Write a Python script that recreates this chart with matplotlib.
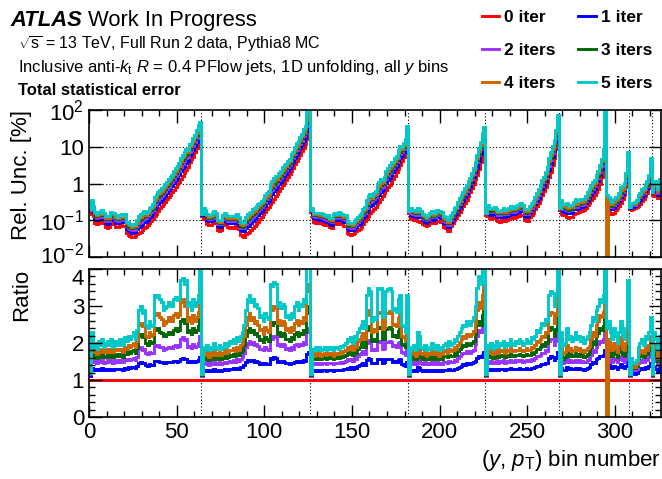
import numpy as np
import matplotlib
matplotlib.use("Agg")
import matplotlib.pyplot as plt
from matplotlib.lines import Line2D
from matplotlib.transforms import ScaledTranslation
from matplotlib.ticker import MultipleLocator, LogLocator, FixedLocator, NullFormatter

plt.rcParams["font.family"] = ["Liberation Sans", "DejaVu Sans"]
plt.rcParams["mathtext.fontset"] = "custom"
plt.rcParams["mathtext.rm"] = "Liberation Sans"
plt.rcParams["mathtext.it"] = "Liberation Sans:italic"
plt.rcParams["mathtext.bf"] = "Liberation Sans:bold"

# y-bin boundaries (in bin number)
y_bin_edges = [64, 126, 182, 226, 268, 295, 308, 321]
n_bins = 326

# relative stat. uncertainty [%] for 0 iterations, one row block per y bin
unc_0iter = [
    # y bin 1
    0.17, 0.15, 0.13, 0.085, 0.08, 0.082, 0.09, 0.088, 0.085, 0.065,
    0.062, 0.066, 0.08, 0.082, 0.078, 0.066, 0.064, 0.068, 0.072, 0.07,
    0.068, 0.045, 0.04, 0.038, 0.034, 0.035, 0.037, 0.042, 0.045, 0.048,
    0.055, 0.06, 0.065, 0.075, 0.085, 0.095, 0.11, 0.13, 0.15, 0.18,
    0.21, 0.24, 0.28, 0.32, 0.37, 0.43, 0.5, 0.58, 0.68, 0.8,
    0.95, 1.1, 1.35, 1.6, 1.95, 2.3, 2.8, 3.8, 4.5, 5.3,
    7.0, 9.0, 12, 10,
    # y bin 2
    0.13, 0.11, 0.105, 0.078, 0.075, 0.074, 0.085, 0.088, 0.083, 0.055,
    0.052, 0.054, 0.075, 0.078, 0.072, 0.066, 0.063, 0.065, 0.062, 0.07,
    0.068, 0.058, 0.04, 0.037, 0.036, 0.042, 0.045, 0.048, 0.055, 0.062,
    0.07, 0.08, 0.092, 0.11, 0.125, 0.145, 0.17, 0.2, 0.23, 0.27,
    0.32, 0.38, 0.45, 0.53, 0.63, 0.75, 0.9, 1.05, 1.25, 1.5,
    1.8, 2.2, 2.7, 3.3, 4.0, 4.9, 6.0, 7.5, 9.5, 12,
    16, 22,
    # y bin 3
    0.17, 0.12, 0.09, 0.085, 0.088, 0.082, 0.086, 0.08, 0.075, 0.072,
    0.076, 0.064, 0.06, 0.082, 0.086, 0.08, 0.088, 0.084, 0.08, 0.07,
    0.068, 0.045, 0.042, 0.04, 0.041, 0.044, 0.05, 0.054, 0.058, 0.065,
    0.08, 0.095, 0.11, 0.13, 0.155, 0.18, 0.2, 0.23, 0.27, 0.31,
    0.37, 0.45, 0.55, 0.65, 0.78, 0.92, 1.1, 1.35, 1.65, 2.0,
    2.5, 3.1, 4.0, 5.2, 7.0, 11,
    # y bin 4
    0.16, 0.11, 0.105, 0.1, 0.1, 0.095, 0.092, 0.096, 0.08, 0.072,
    0.07, 0.074, 0.085, 0.088, 0.082, 0.086, 0.095, 0.098, 0.092, 0.09,
    0.065, 0.06, 0.052, 0.05, 0.07, 0.085, 0.1, 0.115, 0.14, 0.17,
    0.2, 0.24, 0.3, 0.36, 0.45, 0.58, 0.76, 1.0, 1.3, 1.7,
    2.5, 3.8, 5.5, 7.5,
    # y bin 5
    0.14, 0.13, 0.115, 0.11, 0.12, 0.115, 0.1, 0.095, 0.092, 0.1,
    0.105, 0.098, 0.1, 0.11, 0.115, 0.12, 0.112, 0.12, 0.13, 0.128,
    0.14, 0.135, 0.1, 0.095, 0.098, 0.12, 0.14, 0.16, 0.2, 0.24,
    0.3, 0.38, 0.5, 0.62, 0.8, 1.1, 1.5, 2.1, 3.2, 5.0,
    8.5, 15,
    # y bin 6
    0.19, 0.15, 0.14, 0.135, 0.12, 0.118, 0.12, 0.125, 0.15, 0.16,
    0.155, 0.165, 0.18, 0.175, 0.19, 0.22, 0.26, 0.3, 0.35, 0.4,
    0.48, 0.58, 0.72, 1.0, 1.5, 2.6, 3.0,
    # y bin 7
    0.2, 0.17, 0.15, 0.15, 0.16, 0.19, 0.22, 0.24, 0.3, 0.38,
    0.5, 0.8, 2.0,
    # y bin 8
    0.2, 0.19, 0.2, 0.21, 0.23, 0.25, 0.28, 0.33, 0.38, 0.45,
    0.55, 0.75, 1.8,
    # y bin 9
    0.5, 0.45, 0.55, 0.4, 0.6,
]

# ratio to 0 iterations
ratio_1iter = [
    1.12, 1.32, 1.28, 1.3, 1.26, 1.3, 1.28, 1.32, 1.27, 1.29,
    1.31, 1.27, 1.31, 1.27, 1.29, 1.31, 1.29, 1.31, 1.29, 1.27,
    1.33, 1.31, 1.34, 1.32, 1.34, 1.35, 1.32, 1.37, 1.46, 1.48,
    1.45, 1.47, 1.4, 1.39, 1.42, 1.4, 1.41, 1.52, 1.51, 1.52,
    1.5, 1.49, 1.46, 1.47, 1.48, 1.5, 1.49, 1.48, 1.51, 1.52,
    1.5, 1.51, 1.58, 1.6, 1.56, 1.58, 1.5, 1.51, 1.48, 1.52,
    1.5, 1.51, 1.54, 1.62,
    1.1, 1.27, 1.25, 1.28, 1.24, 1.27, 1.25, 1.3, 1.25, 1.27,
    1.28, 1.25, 1.27, 1.3, 1.27, 1.28, 1.31, 1.3, 1.32, 1.29,
    1.33, 1.31, 1.34, 1.36, 1.4, 1.48, 1.53, 1.55, 1.51, 1.53,
    1.5, 1.51, 1.49, 1.44, 1.45, 1.42, 1.46, 1.44, 1.43, 1.6,
    1.58, 1.61, 1.6, 1.5, 1.52, 1.49, 1.51, 1.5, 1.45, 1.46,
    1.43, 1.46, 1.45, 1.5, 1.52, 1.49, 1.51, 1.5, 1.54, 1.52,
    1.7, 1.75,
    1.1, 1.26, 1.24, 1.27, 1.25, 1.26, 1.24, 1.26, 1.27, 1.25,
    1.26, 1.26, 1.27, 1.24, 1.26, 1.27, 1.26, 1.28, 1.27, 1.29,
    1.3, 1.33, 1.31, 1.34, 1.3, 1.35, 1.33, 1.37, 1.4, 1.42,
    1.45, 1.4, 1.55, 1.6, 1.57, 1.45, 1.47, 1.46, 1.58, 1.57,
    1.58, 1.47, 1.48, 1.56, 1.57, 1.58, 1.56, 1.5, 1.51, 1.49,
    1.54, 1.56, 1.42, 1.4, 1.38, 1.5,
    1.1, 1.26, 1.24, 1.27, 1.23, 1.35, 1.33, 1.26, 1.24, 1.27,
    1.23, 1.26, 1.24, 1.28, 1.26, 1.24, 1.27, 1.23, 1.26, 1.24,
    1.27, 1.28, 1.26, 1.29, 1.27, 1.28, 1.31, 1.29, 1.33, 1.36,
    1.39, 1.42, 1.41, 1.45, 1.44, 1.42, 1.45, 1.48, 1.52, 1.6,
    1.65, 1.62, 1.68, 1.75,
    1.1, 1.29, 1.27, 1.3, 1.26, 1.29, 1.31, 1.27, 1.3, 1.29,
    1.31, 1.27, 1.3, 1.29, 1.32, 1.3, 1.29, 1.31, 1.3, 1.32,
    1.31, 1.29, 1.3, 1.32, 1.31, 1.3, 1.33, 1.32, 1.35, 1.38,
    1.37, 1.4, 1.44, 1.42, 1.47, 1.45, 1.6, 1.65, 1.62, 1.55,
    1.6, 1.75,
    1.1, 1.32, 1.26, 1.28, 1.34, 1.3, 1.32, 1.29, 1.31, 1.33,
    1.3, 1.32, 1.29, 1.31, 1.28, 1.3, 1.32, 1.35, 1.42, 1.5,
    1.47, 1.56, 1.6, 1.66, 1.64, 1.68, 1.8,
    1.45, 1.42, 1.36, 1.32, 1.38, 1.34, 1.3, 1.36, 1.42, 1.34,
    1.32, 1.37, 1.55,
    1.1, 1.2, 1.18, 1.16, 1.19, 1.28, 1.3, 1.32, 1.29, 1.35,
    1.32, 1.37, 1.45,
    1.1, 1.35, 1.3, 1.22, 1.32,
]

ratio_2iters = [
    1.15, 1.55, 1.48, 1.52, 1.46, 1.51, 1.48, 1.53, 1.47, 1.5,
    1.53, 1.48, 1.53, 1.47, 1.5, 1.53, 1.5, 1.53, 1.5, 1.48,
    1.56, 1.53, 1.58, 1.55, 1.58, 1.6, 1.55, 1.63, 1.85, 1.88,
    1.82, 1.85, 1.72, 1.7, 1.76, 1.72, 1.74, 1.95, 1.93, 1.95,
    1.9, 1.88, 1.82, 1.84, 1.87, 1.9, 1.88, 1.86, 1.93, 1.95,
    1.9, 1.93, 2.1, 2.15, 2.08, 2.12, 1.9, 1.93, 1.87, 1.96,
    1.9, 1.93, 2.0, 2.2,
    1.12, 1.46, 1.43, 1.48, 1.41, 1.46, 1.43, 1.5, 1.43, 1.46,
    1.48, 1.43, 1.46, 1.5, 1.46, 1.48, 1.52, 1.5, 1.54, 1.49,
    1.56, 1.52, 1.58, 1.63, 1.72, 1.9, 2.0, 2.05, 1.98, 2.02,
    1.95, 1.97, 1.92, 1.83, 1.85, 1.8, 1.88, 1.84, 1.82, 2.15,
    2.12, 2.18, 2.15, 1.95, 1.98, 1.92, 1.97, 1.95, 1.85, 1.86,
    1.82, 1.88, 1.85, 1.95, 1.98, 1.92, 1.97, 1.95, 2.02, 1.98,
    2.3, 2.4,
    1.12, 1.45, 1.42, 1.47, 1.44, 1.46, 1.42, 1.45, 1.47, 1.44,
    1.46, 1.45, 1.47, 1.42, 1.45, 1.47, 1.45, 1.48, 1.46, 1.5,
    1.52, 1.56, 1.53, 1.58, 1.52, 1.6, 1.56, 1.65, 1.7, 1.74,
    1.78, 1.7, 2.0, 2.08, 2.04, 1.8, 1.84, 1.82, 2.05, 2.04,
    2.05, 1.84, 1.86, 2.02, 2.04, 2.05, 2.02, 1.92, 1.94, 1.9,
    2.0, 2.04, 1.75, 1.72, 1.68, 1.9,
    1.12, 1.47, 1.44, 1.48, 1.42, 1.62, 1.58, 1.47, 1.44, 1.48,
    1.42, 1.47, 1.44, 1.5, 1.47, 1.44, 1.48, 1.42, 1.47, 1.44,
    1.48, 1.5, 1.47, 1.52, 1.48, 1.5, 1.55, 1.52, 1.6, 1.65,
    1.7, 1.74, 1.72, 1.78, 1.76, 1.74, 1.78, 1.82, 1.98, 2.2,
    2.35, 2.3, 2.4, 2.6,
    1.12, 1.5, 1.47, 1.52, 1.46, 1.5, 1.53, 1.47, 1.52, 1.5,
    1.53, 1.47, 1.52, 1.5, 1.55, 1.52, 1.5, 1.53, 1.52, 1.55,
    1.53, 1.5, 1.52, 1.55, 1.53, 1.52, 1.57, 1.55, 1.6, 1.66,
    1.64, 1.68, 1.74, 1.72, 1.8, 1.78, 2.05, 2.12, 2.1, 1.95,
    2.05, 2.4,
    1.12, 1.55, 1.45, 1.48, 1.6, 1.5, 1.54, 1.49, 1.52, 1.55,
    1.5, 1.54, 1.49, 1.52, 1.48, 1.5, 1.54, 1.58, 1.68, 1.8,
    1.75, 1.9, 1.96, 2.05, 2.02, 2.1, 2.4,
    1.7, 1.65, 1.55, 1.5, 1.6, 1.53, 1.48, 1.56, 1.66, 1.53,
    1.5, 1.58, 1.9,
    1.12, 1.33, 1.3, 1.27, 1.31, 1.47, 1.5, 1.54, 1.48, 1.58,
    1.54, 1.62, 1.75,
    1.12, 1.6, 1.52, 1.4, 1.55,
]

ratio_3iters = [
    1.18, 1.75, 1.62, 1.68, 1.6, 1.67, 1.63, 1.7, 1.62, 1.66,
    1.7, 1.63, 1.7, 1.62, 1.66, 1.7, 1.66, 1.7, 1.66, 1.63,
    1.75, 1.7, 1.78, 1.74, 1.78, 1.82, 1.74, 1.86, 2.2, 2.25,
    2.15, 2.2, 2.0, 1.95, 2.05, 2.0, 2.02, 2.4, 2.35, 2.4,
    2.3, 2.28, 2.18, 2.2, 2.25, 2.3, 2.28, 2.25, 2.35, 2.4,
    2.32, 2.35, 2.6, 2.65, 2.55, 2.6, 2.3, 2.35, 2.25, 2.4,
    2.3, 2.35, 2.45, 2.8,
    1.13, 1.6, 1.56, 1.62, 1.53, 1.6, 1.56, 1.65, 1.56, 1.6,
    1.62, 1.56, 1.6, 1.65, 1.6, 1.62, 1.67, 1.65, 1.7, 1.64,
    1.73, 1.67, 1.76, 1.82, 1.95, 2.2, 2.35, 2.4, 2.3, 2.35,
    2.25, 2.28, 2.2, 2.08, 2.1, 2.02, 2.15, 2.1, 2.05, 2.55,
    2.5, 2.58, 2.55, 2.25, 2.3, 2.2, 2.28, 2.25, 2.1, 2.12,
    2.05, 2.15, 2.1, 2.25, 2.3, 2.2, 2.28, 2.25, 2.35, 2.3,
    2.8, 3.0,
    1.13, 1.6, 1.56, 1.62, 1.58, 1.61, 1.56, 1.6, 1.62, 1.58,
    1.61, 1.6, 1.62, 1.56, 1.6, 1.62, 1.6, 1.64, 1.61, 1.66,
    1.68, 1.74, 1.7, 1.76, 1.68, 1.78, 1.74, 1.85, 1.9, 1.96,
    2.02, 1.9, 2.35, 2.45, 2.4, 2.05, 2.1, 2.06, 2.42, 2.4,
    2.42, 2.1, 2.12, 2.38, 2.4, 2.42, 2.38, 2.2, 2.22, 2.16,
    2.32, 2.38, 1.98, 1.95, 1.88, 2.4,
    1.13, 1.62, 1.58, 1.64, 1.56, 1.82, 1.78, 1.62, 1.58, 1.64,
    1.56, 1.62, 1.58, 1.66, 1.62, 1.58, 1.64, 1.56, 1.62, 1.58,
    1.64, 1.66, 1.62, 1.68, 1.64, 1.66, 1.72, 1.68, 1.78, 1.84,
    1.9, 1.95, 1.92, 2.0, 1.98, 1.95, 2.0, 2.06, 2.25, 2.5,
    2.6, 2.5, 2.75, 3.0,
    1.13, 1.65, 1.62, 1.67, 1.6, 1.65, 1.68, 1.62, 1.67, 1.65,
    1.68, 1.62, 1.67, 1.65, 1.7, 1.67, 1.65, 1.68, 1.67, 1.7,
    1.68, 1.65, 1.67, 1.7, 1.68, 1.67, 1.74, 1.7, 1.77, 1.85,
    1.83, 1.88, 1.96, 1.93, 2.03, 2.0, 2.35, 2.42, 2.38, 2.2,
    2.35, 2.9,
    1.13, 1.72, 1.58, 1.62, 1.78, 1.66, 1.7, 1.64, 1.68, 1.72,
    1.66, 1.7, 1.64, 1.68, 1.62, 1.66, 1.7, 1.76, 1.9, 2.05,
    1.98, 2.2, 2.28, 2.4, 2.35, 2.45, 2.9,
    1.9, 1.85, 1.72, 1.65, 1.8, 1.7, 1.62, 1.75, 1.88, 1.7,
    1.66, 1.78, 2.2,
    1.13, 1.4, 1.35, 1.32, 1.37, 1.6, 1.65, 1.7, 1.62, 1.76,
    1.7, 1.8, 2.0,
    1.13, 1.8, 1.68, 1.52, 1.7,
]

ratio_4iters = [
    1.2, 1.9, 1.75, 1.8, 1.7, 1.8, 1.75, 1.85, 1.75, 1.8,
    1.85, 1.75, 1.85, 1.75, 1.8, 1.85, 1.8, 1.85, 1.8, 1.75,
    1.9, 1.85, 1.95, 1.9, 1.95, 2.0, 1.9, 2.05, 2.5, 2.55,
    2.45, 2.5, 2.2, 2.15, 2.3, 2.2, 2.25, 2.8, 2.75, 2.8,
    2.7, 2.65, 2.5, 2.55, 2.6, 2.7, 2.65, 2.6, 2.75, 2.8,
    2.7, 2.75, 3.1, 3.2, 3.0, 3.1, 2.6, 2.7, 2.55, 2.75,
    2.6, 2.7, 2.85, 3.5,
    1.15, 1.72, 1.68, 1.75, 1.63, 1.72, 1.68, 1.8, 1.67, 1.72,
    1.75, 1.68, 1.72, 1.8, 1.72, 1.75, 1.82, 1.8, 1.86, 1.78,
    1.9, 1.82, 1.95, 2.0, 2.2, 2.5, 2.7, 2.8, 2.62, 2.7,
    2.55, 2.6, 2.5, 2.35, 2.38, 2.25, 2.42, 2.35, 2.3, 2.95,
    2.9, 3.0, 2.95, 2.55, 2.62, 2.5, 2.6, 2.55, 2.35, 2.4,
    2.3, 2.42, 2.35, 2.55, 2.62, 2.48, 2.6, 2.55, 2.7, 2.62,
    3.4, 3.6,
    1.15, 1.7, 1.66, 1.74, 1.68, 1.72, 1.66, 1.7, 1.74, 1.68,
    1.72, 1.7, 1.74, 1.66, 1.7, 1.74, 1.7, 1.76, 1.72, 1.78,
    1.82, 1.9, 1.85, 1.93, 1.82, 1.96, 1.9, 2.05, 2.12, 2.2,
    2.28, 2.12, 2.75, 2.9, 2.8, 2.3, 2.38, 2.32, 2.85, 2.8,
    2.85, 2.38, 2.42, 2.8, 2.82, 2.86, 2.8, 2.5, 2.52, 2.45,
    2.68, 2.75, 2.2, 2.15, 2.05, 2.8,
    1.15, 1.75, 1.7, 1.78, 1.66, 2.0, 1.95, 1.74, 1.7, 1.78,
    1.66, 1.74, 1.7, 1.8, 1.74, 1.7, 1.78, 1.66, 1.74, 1.7,
    1.78, 1.8, 1.74, 1.84, 1.78, 1.8, 1.88, 1.84, 1.95, 2.02,
    2.1, 2.18, 2.14, 2.25, 2.2, 2.18, 2.25, 2.32, 2.55, 2.9,
    3.1, 2.95, 3.3, 3.6,
    1.15, 1.78, 1.74, 1.8, 1.7, 1.78, 1.82, 1.74, 1.8, 1.78,
    1.82, 1.74, 1.8, 1.78, 1.86, 1.8, 1.78, 1.82, 1.8, 1.86,
    1.82, 1.78, 1.8, 1.86, 1.82, 1.8, 1.9, 1.86, 1.95, 2.05,
    2.02, 2.1, 2.2, 2.16, 2.3, 2.26, 2.75, 2.85, 2.8, 2.55,
    2.75, 3.5,
    1.15, 1.9, 1.72, 1.76, 1.95, 1.8, 1.86, 1.78, 1.82, 1.9,
    1.8, 1.86, 1.78, 1.82, 1.76, 1.8, 1.86, 1.92, 2.1, 2.3,
    2.2, 2.5, 2.6, 2.75, 2.7, 2.85, 4.6,
    0.0, 2.1, 1.9, 1.8, 2.0, 1.85, 1.75, 1.95, 2.15, 1.85,
    1.8, 2.0, 2.6,
    1.15, 1.45, 1.4, 1.36, 1.42, 1.7, 1.75, 1.82, 1.72, 1.9,
    1.82, 1.95, 2.2,
    1.15, 1.95, 1.8, 1.6, 1.85,
]

ratio_5iters = [
    1.2, 2.3, 1.9, 2.0, 1.85, 2.05, 1.95, 2.1, 1.9, 2.0,
    2.05, 1.95, 2.1, 1.9, 2.0, 2.05, 1.95, 2.1, 2.0, 1.95,
    2.15, 2.05, 2.2, 2.1, 2.2, 2.3, 2.1, 2.35, 2.9, 3.0,
    2.8, 2.9, 2.5, 2.4, 2.6, 2.45, 2.5, 3.3, 3.25, 3.3,
    3.2, 3.1, 2.9, 2.95, 3.0, 3.1, 3.05, 3.0, 3.2, 3.25,
    3.15, 3.2, 3.7, 3.75, 3.6, 3.7, 3.0, 3.1, 2.9, 3.2,
    3.0, 3.1, 3.3, 4.6,
    1.15, 1.9, 1.85, 1.95, 1.8, 1.9, 1.85, 2.0, 1.85, 1.9,
    1.95, 1.85, 1.9, 2.0, 1.9, 1.95, 2.05, 2.0, 2.1, 2.0,
    2.15, 2.05, 2.2, 2.3, 2.5, 2.9, 3.2, 3.3, 3.1, 3.2,
    3.0, 3.05, 2.95, 2.7, 2.75, 2.6, 2.8, 2.7, 2.65, 3.6,
    3.55, 3.65, 3.6, 3.0, 3.1, 2.95, 3.05, 3.0, 2.7, 2.75,
    2.65, 2.8, 2.7, 3.0, 3.1, 2.9, 3.05, 3.0, 3.2, 3.1,
    6.0, 6.0,
    1.15, 1.85, 1.8, 1.9, 1.82, 1.88, 1.8, 1.85, 1.9, 1.82,
    1.88, 1.85, 1.9, 1.8, 1.86, 1.9, 1.85, 1.92, 1.88, 1.95,
    2.0, 2.1, 2.05, 2.15, 2.0, 2.2, 2.1, 2.3, 2.4, 2.5,
    2.6, 2.4, 3.3, 3.5, 3.4, 2.6, 2.7, 2.65, 3.5, 3.45,
    3.5, 2.7, 2.75, 3.4, 3.45, 3.5, 3.4, 2.9, 2.95, 2.85,
    3.2, 3.3, 2.5, 2.45, 2.3, 3.3,
    1.15, 1.9, 1.85, 1.95, 1.8, 2.3, 2.2, 1.9, 1.85, 1.95,
    1.8, 1.9, 1.85, 2.0, 1.9, 1.85, 1.95, 1.8, 1.9, 1.85,
    1.95, 2.0, 1.9, 2.05, 1.95, 2.0, 2.1, 2.05, 2.2, 2.3,
    2.4, 2.5, 2.45, 2.6, 2.55, 2.5, 2.6, 2.7, 3.0, 3.5,
    3.8, 3.6, 4.2, 4.5,
    1.15, 1.95, 1.9, 2.0, 1.85, 1.95, 2.05, 1.9, 2.0, 1.95,
    2.05, 1.9, 2.0, 1.95, 2.1, 2.0, 1.95, 2.05, 2.0, 2.1,
    2.05, 1.95, 2.0, 2.1, 2.05, 2.0, 2.15, 2.1, 2.2, 2.35,
    2.3, 2.4, 2.55, 2.5, 2.65, 2.6, 3.3, 3.4, 3.35, 3.0,
    3.3, 5.0,
    1.15, 2.3, 1.95, 2.0, 2.4, 2.1, 2.2, 2.05, 2.15, 2.3,
    2.1, 2.2, 2.05, 2.15, 2.0, 2.1, 2.2, 2.3, 2.5, 2.7,
    2.6, 2.9, 3.0, 3.2, 3.1, 3.3, 35.0,
    2.4, 2.6, 2.3, 2.1, 2.4, 2.2, 2.0, 2.3, 2.6, 2.2,
    2.1, 2.4, 3.7,
    1.15, 1.6, 1.5, 1.45, 1.55, 1.9, 2.0, 2.1, 1.95, 2.2,
    2.1, 2.3, 2.7,
    1.15, 2.3, 2.1, 1.8, 2.2,
]

labels = ["0 iter", "1 iter", "2 iters", "3 iters", "4 iters", "5 iters"]
colors = ["#ff0000", "#0000ff", "#9933ff", "#006600", "#cc6600", "#00c8c8"]

unc0 = np.array(unc_0iter)
ratios = [np.ones(n_bins)] + [np.array(r) for r in
                              (ratio_1iter, ratio_2iters, ratio_3iters, ratio_4iters, ratio_5iters)]
edges = np.arange(n_bins + 1)

W, H = 662, 479
fig = plt.figure(figsize=(W / 100, H / 100), dpi=100)
ax1 = fig.add_axes([89 / W, 1 - 257 / H, 571.5 / W, 147 / H])
ax2 = fig.add_axes([89 / W, 1 - 417 / H, 571.5 / W, 148 / H])

for r, c in zip(ratios, colors):
    ax1.stairs(unc0 * r, edges, baseline=None, color=c, lw=2.1)
    ax2.stairs(r, edges, baseline=None, color=c, lw=2.1)

ax1.set_yscale("log")
ax1.set_ylim(1e-2, 1e2)
ax2.set_ylim(0, 4)
for ax in (ax1, ax2):
    ax.set_xlim(0, n_bins)
    for xb in y_bin_edges:
        ax.axvline(xb, color="black", ls=(0, (1, 2)), lw=0.8, zorder=0)
    ax.xaxis.set_major_locator(MultipleLocator(50))
    ax.xaxis.set_minor_locator(MultipleLocator(10))
    ax.tick_params(which="both", direction="in", top=True, right=True,
                   labelsize=16, width=1)
    ax.tick_params(which="major", length=9)
    ax.tick_params(which="minor", length=4.5)
    for s in ax.spines.values():
        s.set_linewidth(1.2)

for yv in (0.1, 1, 10):
    ax1.axhline(yv, color="black", ls=(0, (1, 2)), lw=0.8, zorder=0)
ax1.yaxis.set_major_locator(FixedLocator([1e-2, 1e-1, 1, 10, 1e2]))
ax1.yaxis.set_minor_locator(LogLocator(subs=np.arange(2, 10)))
ax1.yaxis.set_minor_formatter(NullFormatter())
ax1.set_yticklabels([r"$10^{-2}$", r"$10^{-1}$", "1", "10", r"$10^{2}$"])
ax1.tick_params(labelbottom=False)
ax2.set_yticks([0, 1, 2, 3, 4])
ax2.set_yticklabels(["0", "1", "2", "3", "4"])
ax2.yaxis.set_minor_locator(MultipleLocator(0.2))

# keep the two labels at the panel junction apart
lab_low = ax1.get_yticklabels()[0]
lab_low.set_transform(lab_low.get_transform() + ScaledTranslation(0, 3 / 72, fig.dpi_scale_trans))
lab_top = ax2.get_yticklabels()[-1]
lab_top.set_transform(lab_top.get_transform() + ScaledTranslation(0, -6 / 72, fig.dpi_scale_trans))

ax1.set_ylabel("Rel. Unc. [%]", fontsize=16, loc="top")
ax1.yaxis.set_label_coords(-0.1, 1.0)
ax2.set_ylabel("Ratio", fontsize=16, loc="top")
ax2.yaxis.set_label_coords(-0.1, 1.0)
ax2.set_xlabel(r"($\it{y}$, $\it{p}_{\rm T}$) bin number", fontsize=16, loc="right")

atlas = fig.text(10 / W, 1 - 26 / H, "ATLAS", fontsize=15.8, fontweight="bold", style="italic")
bb = atlas.get_window_extent(renderer=fig.canvas.get_renderer())
fig.text((bb.x1 + 6) / W, 1 - 26 / H, "Work In Progress", fontsize=15.8)
fig.text(18 / W, 1 - 49 / H, r"$\sqrt{\rm s}$ = 13 TeV, Full Run 2 data, Pythia8 MC", fontsize=11.5)
fig.text(18 / W, 1 - 72 / H,
         r"Inclusive anti-$\it{k}_{\rm t}$ $\it{R}$ = 0.4 PFlow jets, 1D unfolding, all $\it{y}$ bins",
         fontsize=12)
fig.text(18 / W, 1 - 95 / H, "Total statistical error", fontsize=12, fontweight="bold")

handles = [Line2D([], [], color=c, lw=2.1) for c in colors]
order = [0, 2, 4, 1, 3, 5]
fig.legend([handles[i] for i in order], [labels[i] for i in order], ncol=2,
           loc="upper right", bbox_to_anchor=(1.0, 1.0), frameon=False,
           prop={"weight": "bold", "size": 12.5}, handlelength=1.0, handletextpad=0.3,
           labelspacing=1.05, columnspacing=1.3, borderaxespad=0.15)

fig.savefig("out.png", dpi=100)
